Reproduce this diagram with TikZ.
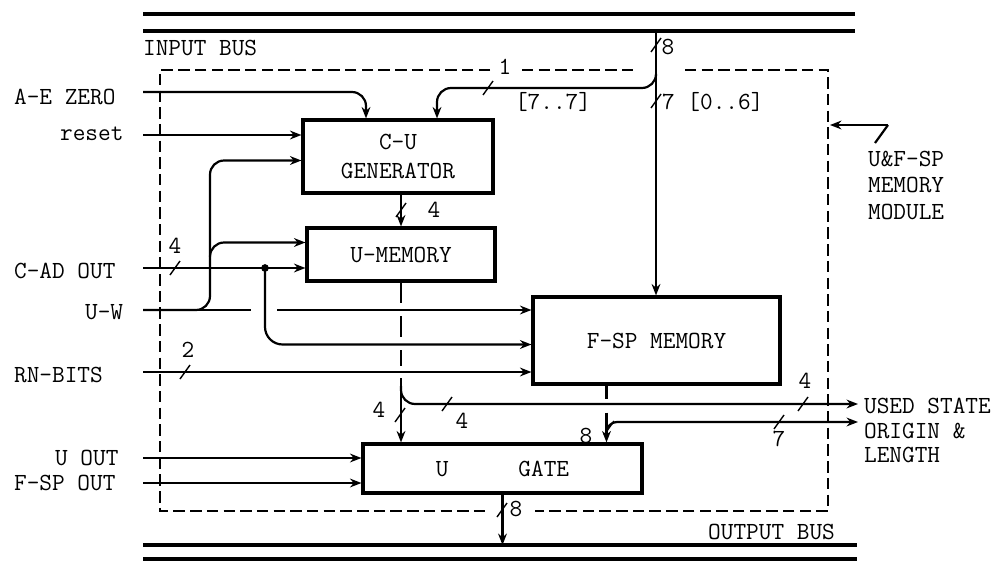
\documentclass[tikz,border=0pt]{standalone}
\usepackage{fontspec}
\usetikzlibrary{arrows.meta, calc, positioning}

\begin{document}
\begin{tikzpicture}[
  x=0.02cm, y=-0.02cm,
  every node/.style={font=\fontsize{14}{14}\selectfont\ttfamily, inner sep=1pt},
  wire/.style={line width=1.25pt},
  bus/.style={line width=1.8pt},
  blk/.style={draw, line width=1.8pt, inner sep=2pt, align=center},
  mod/.style={line width=0.9pt, dash pattern=on 6.5pt off 3pt},
  >={Stealth[length=6.5pt,width=5pt]},
  wslash/.pic={\draw[line width=0.8pt] (-5,7) -- (5,-7);}
]
  \useasboundingbox (0,0) rectangle (1004,561);

  % blocks
  \node[blk, minimum width=3.8cm, minimum height=1.46cm] (cug) at (398,156.5) {C-U\\[2pt]GENERATOR};
  \node[blk, minimum width=3.76cm, minimum height=1.06cm] (umem) at (401,254.5) {U-MEMORY};
  \node[blk, minimum width=4.94cm, minimum height=1.74cm] (fsp) at (656.5,340.5) {F-SP MEMORY};
  \node[blk, minimum width=5.58cm, minimum height=0.98cm] (ugate) at (502.5,468.5) {U\hspace{1.4cm}GATE};

  % signal names
  \node[anchor=west] (ibus) at (141,48) {INPUT BUS};
  \node[anchor=east] (obus) at (837,532) {OUTPUT BUS};
  \node[anchor=west] (laez) at (12,97) {A-E ZERO};
  \node[anchor=west] (lrst) at (58,134) {reset};
  \node[anchor=west] (lcad) at (12,271) {C-AD OUT};
  \node[anchor=west] (luw) at (83,312) {U-W};
  \node[anchor=west] (lrn) at (12,375) {RN-BITS};
  \node[anchor=west] (luout) at (53,458) {U OUT};
  \node[anchor=west] (lfout) at (12,483) {F-SP OUT};
  \node[anchor=north west, align=left] (lmod) at (866,149) {U\&F-SP\\[1pt]MEMORY\\[1pt]MODULE};
  \node[anchor=north west, align=left] (lused) at (862,396) {USED STATE\\ORIGIN \&\\LENGTH};

  % end points
  \coordinate (aezin) at (143,92);
  \coordinate (rstin) at (143,135);
  \coordinate (cadin) at (143,268);
  \coordinate (uwin) at (143,310);
  \coordinate (uwr) at (277,310);
  \coordinate (rnin) at (143,372);
  \coordinate (uoutin) at (143,458);
  \coordinate (foutin) at (143,483);
  \coordinate (busin) at (656,31);
  \coordinate (cadj) at (265,268);
  \coordinate (usedc) at (858,404);
  \coordinate (origc) at (858,422);
  \coordinate (ug4) at (401,378);
  \coordinate (fo) at ($(fsp.south)+(-50,0)$);
  \coordinate (fo2) at ($(fsp.south)+(-50,27)$);
  \coordinate (obusc) at (502.5,545);
  \coordinate (mp) at (888,125);

  % buses
  \draw[bus] (143,14) -- (855,14);
  \draw[bus] (143,31) -- (855,31);
  \draw[bus] (143,545) -- (857,545);
  \draw[bus] (143,559) -- (857,559);

  % module outline
  \draw[mod] (490,70) -- (160,70) -- (160,511) -- (485,511);
  \draw[mod] (522,70) -- (633,70);
  \draw[mod] (685,70) -- (828,70) -- (828,511) -- (535,511);
  \draw[wire,->] (mp) -- (830,125);
  \draw[wire] (mp) -- (875,143);

  % inputs
  \draw[wire,->,rounded corners=8] (aezin) -| ($(cug.north)+(-32,0)$);
  \draw[wire,->] (rstin) -- (rstin -| cug.west);
  \draw[wire,->] (cadin) -- (cadin -| umem.west);
  \fill (cadj) circle (2.2pt);
  \draw[wire,->,rounded corners=10] (cadj) |- ($(fsp.west)+(0,4)$);
  \draw[wire] (uwin) -- (251,310);
  \draw[wire,->] (uwr) -- (uwr -| fsp.west);
  \draw[wire,->,rounded corners=8] (uwin) -| (210,250) |- ($(cug.west)+(0,4)$);
  \draw[wire,->,rounded corners=8] (210,256) |- ($(umem.west)+(0,-12)$);
  \draw[wire,->] (rnin) -- (rnin -| fsp.west);
  \draw[wire,->] (uoutin) -- (uoutin -| ugate.west);
  \draw[wire,->] (foutin) -- (foutin -| ugate.west);

  % input bus
  \draw[wire,->] (busin) -- (busin |- fsp.north);
  \draw[wire,->,rounded corners=8] (656,76) |- (560,88) -| ($(cug.north)+(39,0)$);

  % internal
  \draw[wire,->] (umem.north |- cug.south) -- (umem.north);
  \draw[wire] (umem.south) -- (401,303);
  \draw[wire] (401,316) -- (401,337);
  \draw[wire] (401,350) -- (401,366);
  \draw[wire,->] (ug4) -- (ug4 |- ugate.north);
  \draw[wire,->,rounded corners=8] (401,386) |- (usedc);
  \draw[wire] (fo) -- ++(0,13);
  \draw[wire,->] (fo2) -- (fo2 |- ugate.north);
  \draw[wire,->,rounded corners=6] ($(fsp.south)+(-50,46)$) |- (origc);
  \draw[wire,->] (ugate.south) -- (obusc);

  % bus widths
  \pic at (656,45) {wslash};
  \pic at (488,88) {wslash};
  \pic at (656,101) {wslash};
  \pic at (401,210) {wslash};
  \pic at (175,268) {wslash};
  \pic at (185,372) {wslash};
  \pic at (400,415) {wslash};
  \pic at (447,404) {wslash};
  \pic at (803,404) {wslash};
  \pic at (609,428) {wslash};
  \pic at (779,422) {wslash};
  \pic at (502,510) {wslash};

  \node (w8a) at (668,47) {8};
  \node[fill=white] (w1) at (505,67) {1};
  \node (w77) at (553,102) {[7..7]};
  \node[anchor=west] (w06) at (660,102) {7 [0..6]};
  \node (w4a) at (434,210) {4};
  \node (w4b) at (175,246) {4};
  \node (w2) at (188,350) {2};
  \node (w4c) at (379,410) {4};
  \node (w4d) at (462,421) {4};
  \node (w4e) at (805,381) {4};
  \node (w8b) at (586,436) {8};
  \node (w7) at (779,439) {7};
  \node (w8c) at (516,509) {8};
\end{tikzpicture}
\end{document}
